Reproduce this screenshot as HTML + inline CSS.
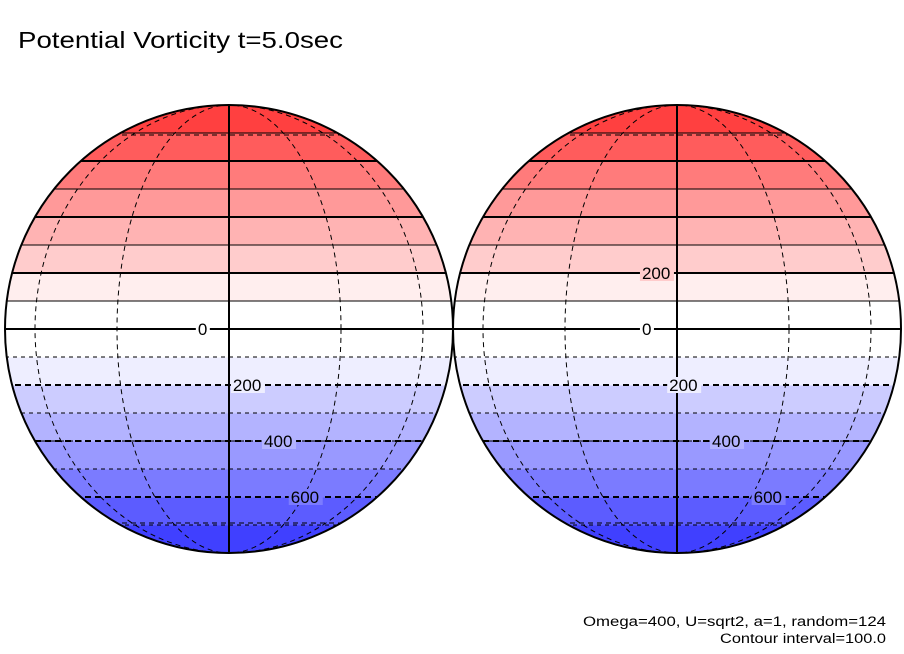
<!DOCTYPE html>
<html><head><meta charset="utf-8"><style>
html,body{margin:0;padding:0;background:#fff;}
svg{display:block;font-family:"Liberation Sans",sans-serif;}
</style></head><body>
<svg id="c" width="904" height="654" viewBox="0 0 904 654">
<text x="18" y="48" font-size="23" textLength="325" lengthAdjust="spacingAndGlyphs" fill="#000">Potential Vorticity t=5.0sec</text>
<text x="583" y="626" font-size="13.5" textLength="303" lengthAdjust="spacingAndGlyphs">Omega=400, U=sqrt2, a=1, random=124</text>
<text x="720" y="643" font-size="13.5" textLength="166" lengthAdjust="spacingAndGlyphs">Contour interval=100.0</text>
</svg>
<script>
// data
const levels = [-800,-700,-600,-500,-400,-300,-200,-100,0,100,200,300,400,500,600,700,800];
const bandColors = ['#4040ff','#5c5cff','#7b7bff','#9999ff','#b3b3ff','#ccccff','#eeeeff','#ffffff','#ffffff','#ffeeee','#ffcccc','#ffb3b3','#ff9999','#ff7b7b','#ff5c5c','#ff4040'];
const leftLabels = [0,-200,-400,-600];
const leftLabelLon = [-8,1,9,16];
const rightLabels = [200,0,-200,-400,-600];
const rightLabelLon = [-9,-9,-2,9,20];
const omega = 400;

const NS='http://www.w3.org/2000/svg';
const svg=document.getElementById('c');
const R=224, CY=329;
function yOf(v){return CY - R*(v/(2*omega));}
function mk(tag,attrs,parent){const e=document.createElementNS(NS,tag);for(const k in attrs)e.setAttribute(k,attrs[k]);(parent||svg).appendChild(e);return e;}

function globe(cx,idx,labels,lons){
  const g=mk('g',{});
  
  
  const cp=mk('clipPath',{id:'clip'+idx},g);
  mk('circle',{cx:cx,cy:CY,r:R},cp);
  const inner=mk('g',{'clip-path':'url(#clip'+idx+')'},g);
  for(let i=0;i<bandColors.length;i++){
    const y1=yOf(levels[i+1]), y2=yOf(levels[i]);
    const r=mk('rect',{x:cx-R,y:y1,width:2*R,height:y2-y1+0.5,fill:bandColors[i]},inner);
    
    
  }
  for(let i=1;i<levels.length-1;i++){
    const v=levels[i], y=yOf(v);
    const bold=(Math.abs(v)%200===0);
    const l=mk('line',{x1:cx-R,x2:cx+R,y1:y,y2:y,stroke:'#000','stroke-width':bold?2:1,'stroke-dasharray':v<0?(bold?'6,4':'4,4'):'none'},inner);
    
    
  }
  [30,60].forEach(d=>{
    const a=R*Math.sin(d*Math.PI/180);
    const e=mk('ellipse',{cx:cx,cy:CY,rx:a,ry:R,fill:'none',stroke:'#000','stroke-width':1,'stroke-dasharray':'5,4'},inner);
    
    
    [-1,1].forEach(s=>{
      const y=CY-s*R*Math.sin(d*Math.PI/180);
      const p=mk('line',{x1:cx-R,x2:cx+R,y1:y,y2:y,stroke:'#000','stroke-width':1,'stroke-dasharray':'5,4'},inner);
      
      
    });
  });
  const m=mk('line',{x1:cx,x2:cx,y1:CY-R,y2:CY+R,stroke:'#000','stroke-width':2},inner);
  
  
  labels.forEach((v,i)=>{
    const x=cx+R*Math.sin(lons[i]*Math.PI/180), y=yOf(v);
    const t=String(Math.abs(v)).length;
    const w=t*10+4;
    mk('rect',{x:x-2,y:y-8,width:w,height:16,fill:bandColors[Math.min(levels.indexOf(v),bandColors.length-1)]},inner);
    const tx=mk('text',{x:x,y:y+6,'font-size':17,fill:'#000'},inner);
    tx.textContent=String(Math.abs(v));
    
    
  });
  const o=mk('circle',{cx:cx,cy:CY,r:R,fill:'none',stroke:'#000','stroke-width':2},g);
  
  
}
globe(229,'left',leftLabels,leftLabelLon);
globe(677,'right',rightLabels,rightLabelLon);
</script>
</body></html>
